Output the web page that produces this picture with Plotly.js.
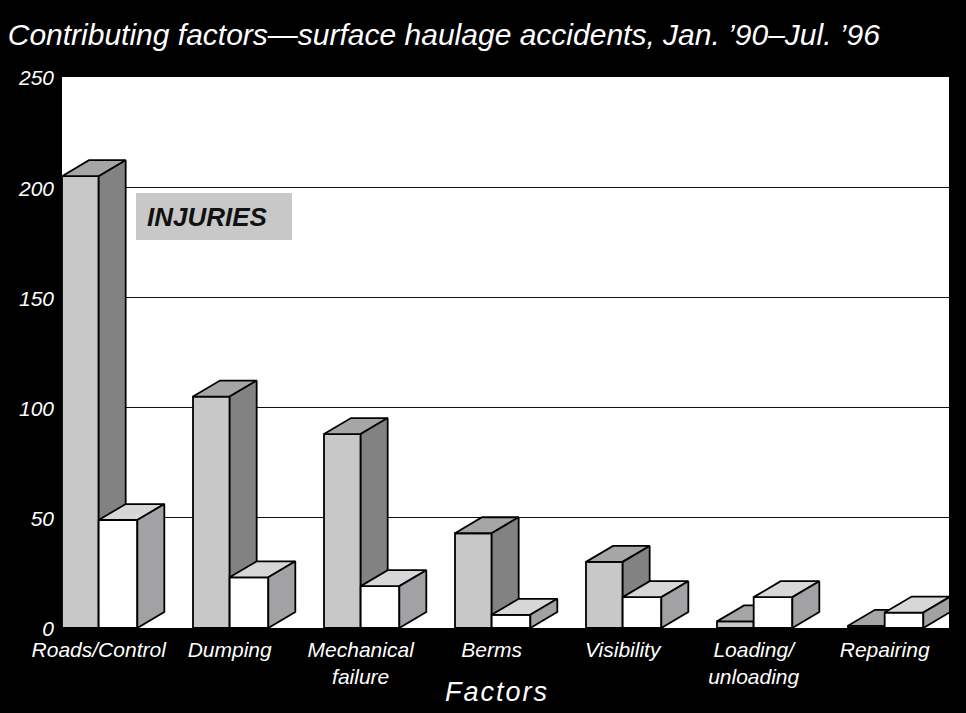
<!DOCTYPE html>
<html>
<head>
<meta charset="utf-8">
<script src="https://cdn.plot.ly/plotly-3.0.1.min.js"></script>
<style>
html,body{margin:0;padding:0;background:#000;}
g.annotation[data-index="1"] text.annotation-text{letter-spacing:2px;}
</style>
</head>
<body>
<div id="chart" style="width:966px;height:713px;"></div>
<script>
// ---- data ----
const categories = ['Roads/Control', 'Dumping', 'Mechanical<br>failure', 'Berms', 'Visibility', 'Loading/<br>unloading', 'Repairing'];
const injuries = [205, 105, 88, 43, 30, 3, 1];
const fatalities = [49, 23, 19, 6, 14, 14, 7];
const yTicks = [0, 50, 100, 150, 200, 250];

// ---- style constants ----
const FONT = '"Liberation Sans", Arial, sans-serif';
const NARROW = '"Liberation Sans Narrow", "Liberation Sans", Arial, sans-serif';
const W_GRAY = 0.28, W_WHITE = 0.295;   // front-face widths (x units)
const DX = 0.206, DY = 7.25;            // 3-D depth offsets (x units, y units)

function faces(values, x0fn, w) {
  const fr = {x: [], y: []}, tp = {x: [], y: []}, sd = {x: [], y: []};
  values.forEach((v, i) => {
    const a = x0fn(i), b = a + w;
    fr.x.push(a, b, b, a, a, null); fr.y.push(0, 0, v, v, 0, null);
    tp.x.push(a, b, b + DX, a + DX, a, null); tp.y.push(v, v, v + DY, v + DY, v, null);
    sd.x.push(b, b + DX, b + DX, b, b, null); sd.y.push(0, DY, v + DY, v, 0, null);
  });
  return [fr, tp, sd];
}
function poly(p, color) {
  return {type: 'scatter', mode: 'lines', x: p.x, y: p.y, fill: 'toself', fillcolor: color,
    line: {color: '#000', width: 1.8}, hoverinfo: 'skip', showlegend: false};
}
const g = faces(injuries, i => i - W_GRAY, W_GRAY);
const w = faces(fatalities, i => i, W_WHITE);
const traces = [
  poly(g[0], '#c8c8c8'), poly(g[1], '#a6a6a6'), poly(g[2], '#828282'),
  poly(w[0], '#ffffff'), poly(w[1], '#d7d7d9'), poly(w[2], '#a2a2a5')
];

const xMin = -W_GRAY, xMax = -W_GRAY + 887 / 131;

const layout = {
  width: 966, height: 713,
  margin: {l: 62, r: 17, t: 77, b: 85},
  paper_bgcolor: '#000', plot_bgcolor: '#fff',
  showlegend: false,
  title: {text: 'Contributing factors\u2014surface haulage accidents, Jan. \u201990\u2013Jul. \u201996',
    xref: 'container', yref: 'container', x: 0.008, xanchor: 'left', y: 1 - 34 / 713, yanchor: 'middle',
    font: {family: NARROW, size: 30, color: '#fff', style: 'italic'}},
  xaxis: {range: [xMin, xMax], tickvals: categories.map((c, i) => i), ticktext: categories,
    showgrid: false, zeroline: false, showline: false, ticks: '', ticklabelstandoff: 7,
    tickfont: {family: FONT, size: 21, color: '#fff', style: 'italic'}, fixedrange: true},
  yaxis: {range: [0, 250], tickvals: yTicks, ticktext: yTicks.map(String),
    showgrid: true, gridcolor: '#111', gridwidth: 1, zeroline: false, showline: false, ticks: '',
    ticklabelstandoff: 7, ticklabelshift: 1,
    tickfont: {family: FONT, size: 21, color: '#fff', style: 'italic'}, fixedrange: true},
  shapes: [{type: 'rect', xref: 'paper', yref: 'paper', x0: 74 / 887, x1: 230 / 887,
    y0: (628 - 240) / 551, y1: (628 - 193) / 551, fillcolor: '#c8c8c8', line: {width: 0}, layer: 'above'}],
  annotations: [
    {text: '<b>INJURIES</b>', xref: 'paper', yref: 'paper', x: 83 / 887, y: (628 - 216.5) / 551,
      xanchor: 'left', yanchor: 'middle', showarrow: false,
      font: {family: NARROW, size: 26, color: '#111', style: 'italic'}},
    {text: 'Factors', xref: 'paper', yref: 'paper', x: 0.49, y: (628 - 692) / 551,
      xanchor: 'center', yanchor: 'middle', showarrow: false,
      font: {family: FONT, size: 27, color: '#fff', style: 'italic'}}
  ]
};

Plotly.newPlot('chart', traces, layout, {staticPlot: true, displayModeBar: false});
</script>
</body>
</html>
